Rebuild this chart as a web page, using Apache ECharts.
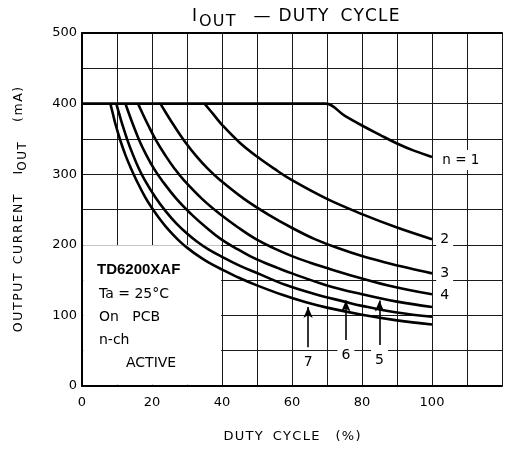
<!DOCTYPE html>
<html><head><meta charset="utf-8">
<script src="https://cdn.jsdelivr.net/npm/echarts@6/dist/echarts.min.js"></script>
<style>html,body{margin:0;padding:0;background:#fff}#c{width:505px;height:450px}</style>
</head><body><div id="c"></div>
<script>
// ---- data ----
const xTickLabels = [0, 20, 40, 60, 80, 100];
const yTickLabels = [0, 100, 200, 300, 400, 500];
const n1 = [[0,400],[60,400],[69.5,400],[75,383],[80,369],[85,356],[90,343.5],[95,333],[100,324.5]];
const n2 = [[35,400],[37.5,385],[40,370],[45,345],[50,325],[55,307.5],[60,291.5],[70,265],[80,243.5],[90,224.5],[100,208]];
const n3 = [[22.4,400],[24.1,386],[25.8,372.5],[29.2,347.5],[32.6,326],[36,307.5],[39.5,291.5],[46.3,265],[53,243.5],[59.8,224.5],[66.5,208],[73.3,195],[80,184],[86.7,175],[93.3,167],[100,159.5]];
const n4 = [[16,400],[17.3,386],[18.6,372.5],[21.2,347.5],[23.9,326],[26.5,307.5],[29.1,291.5],[34.3,265],[39.4,243.5],[44.6,224.5],[49.7,208],[54.9,195],[60,184],[65,175],[70,167],[75,159.5],[87.5,142.5],[100,130]];
const n5 = [[12.4,400],[13.4,386],[14.4,372.5],[16.4,347.5],[18.5,326],[20.6,307.5],[22.8,291.5],[27,265],[31.2,243.5],[35.5,224.5],[39.7,208],[44,195],[48,184],[52,175],[56,167],[60,159.5],[70,142.5],[80,130],[90,119.5],[100,112]];
const n6 = [[9.8,400],[10.6,386],[11.4,372.5],[13,348],[14.6,327],[16.2,308.5],[17.9,292],[21,267],[24,247],[27,230],[30,216],[33,204],[36,194],[40,183],[45,170.5],[50,160],[58.3,143],[66.7,130],[75,119.5],[80,113.5],[90,104],[100,98]];
const n7 = [[8.1,400],[8.8,386],[9.5,372],[11,347],[12.5,326],[14,308],[15.5,292],[18,268],[20,252],[22,238],[24,225.5],[26,214.5],[28,204.5],[30,196],[33,185],[36,175.5],[40,165],[45,153],[50,142.5],[57,129.5],[64,118.5],[70,111],[80,101],[90,93],[100,87]];
const curves = [n1, n2, n3, n4, n5, n6, n7];
const curveLabels = ['n = 1', '2', '3', '4', '5', '6', '7'];
// arrows: [x, tail y, tip y]
const arrows = [[64.6, 55, 112], [75.4, 65, 121], [85, 58, 121]];

const FONT = '"DejaVu Sans", "Open Sans", sans-serif';
// letter-spaced rich text: every char in style st, joined by gap style g
function sp(text, st, g) {
  return Array.from(text).map(c => '{' + st + '|' + c + '}').join(g ? '{' + g + '| }' : '');
}
function gap(name) { return '{' + name + '| }'; }

const chart = echarts.init(document.getElementById('c'), null, {renderer: 'canvas'});

const series = [{
  type: 'line', data: [], z: 1, silent: true,
  markArea: {
    silent: true,
    itemStyle: {color: '#ffffff', opacity: 1},
    data: [[{coord: [0.35, 1.6]}, {coord: [39.75, 199.2]}]]
  }
}];
curves.forEach((c, i) => {
  const s = {
    type: 'line', data: c, z: 3, smooth: 0.4, symbol: 'none', silent: true,
    lineStyle: {color: '#000', width: 2.6}
  };
  if (i === 6) {
    s.markLine = {
      silent: true, symbol: ['none', 'arrow'], symbolSize: [7, 11],
      lineStyle: {color: '#000', width: 1.6, type: 'solid'},
      label: {show: false},
      data: arrows.map(a => [{coord: [a[0], a[1]]}, {coord: [a[0], a[2]]}])
    };
  }
  series.push(s);
});

const base = {fontFamily: FONT, fontWeight: 'normal', color: '#000', verticalAlign: 'top'};
const titleRich = {
  a: Object.assign({fontSize: 17, lineHeight: 24}, base),
  s: Object.assign({fontSize: 16, lineHeight: 24, padding: [6, 0, 0, 0]}, base),
  g: Object.assign({fontSize: 17, lineHeight: 24, width: 1.2}, base),
  w0: Object.assign({fontSize: 17, lineHeight: 24, width: 2}, base),
  w1: Object.assign({fontSize: 17, lineHeight: 24, width: 18}, base),
  w2: Object.assign({fontSize: 17, lineHeight: 24, width: 8}, base),
  w3: Object.assign({fontSize: 17, lineHeight: 24, width: 12}, base)
};
const yRich = {
  a: Object.assign({fontSize: 12.5, lineHeight: 18}, base),
  s: Object.assign({fontSize: 12, lineHeight: 18, padding: [5, 0, 0, 0]}, base),
  g: Object.assign({fontSize: 12.5, lineHeight: 18, width: 1.6}, base),
  w1: Object.assign({fontSize: 12.5, lineHeight: 18, width: 9}, base),
  w2: Object.assign({fontSize: 12.5, lineHeight: 18, width: 20}, base)
};
const xRich = {
  a: Object.assign({fontSize: 13, lineHeight: 16}, base),
  g: Object.assign({fontSize: 13, lineHeight: 16, width: 1.3}, base),
  w1: Object.assign({fontSize: 13, lineHeight: 16, width: 10}, base),
  w2: Object.assign({fontSize: 13, lineHeight: 16, width: 16}, base)
};

chart.setOption({
  animation: false,
  title: {
    text: '{a|I}' + gap('w0') + sp('OUT', 's', 'g') + gap('w1') + '{a|—}' + gap('w2') + sp('DUTY', 'a', 'g') + gap('w3') + sp('CYCLE', 'a', 'g'),
    left: 187, top: 3,
    textStyle: {fontWeight: 'normal', rich: titleRich}
  },
  grid: {left: 82, right: 0, top: 33, bottom: 64},
  xAxis: [{
    type: 'value', min: 0, max: 120, interval: 10,
    axisLine: {show: true, lineStyle: {color: '#000', width: 2}},
    axisTick: {show: false},
    splitLine: {show: true, lineStyle: {color: '#1a1a1a', width: 1}},
    axisLabel: {formatter: v => xTickLabels.includes(v) ? String(v) : '', color: '#000', fontSize: 13, fontFamily: FONT, margin: 10},
    name: sp('DUTY', 'a', 'g') + gap('w1') + sp('CYCLE', 'a', 'g') + gap('w2') + sp('(%)', 'a', 'g'),
    nameLocation: 'middle', nameGap: 44,
    nameTextStyle: {rich: xRich}
  }, {
    type: 'value', min: 0, max: 120, position: 'top',
    axisLine: {show: true, lineStyle: {color: '#000', width: 2}},
    axisTick: {show: false}, axisLabel: {show: false}, splitLine: {show: false}
  }],
  yAxis: {
    type: 'value', min: 0, max: 500, interval: 50,
    axisLine: {show: true, lineStyle: {color: '#000', width: 2}},
    axisTick: {show: false},
    splitLine: {show: true, lineStyle: {color: '#1a1a1a', width: 1}},
    axisLabel: {formatter: v => yTickLabels.includes(v) ? String(v) : '', color: '#000', fontSize: 13, fontFamily: FONT, margin: 5},
    name: sp('OUTPUT', 'a', 'g') + gap('w1') + sp('CURRENT', 'a', 'g') + gap('w2') + '{a|I}' + sp('OUT', 's', 'g') + gap('w2') + sp('(mA)', 'a', 'g'),
    nameLocation: 'middle', nameGap: 52, nameRotate: 90,
    nameTextStyle: {rich: yRich}
  },
  series: series
});

// annotations
function px(x, y) { return chart.convertToPixel({gridIndex: 0}, [x, y]); }
const gfx = [];
function lab(text, x, y, align, opts) {
  const p = px(x, y);
  gfx.push({
    type: 'text', x: p[0], y: p[1], z: 10, silent: true,
    style: Object.assign({text: text, fill: '#000', font: '14px ' + FONT, align: align || 'left', verticalAlign: 'middle', backgroundColor: '#fff', padding: [3, 4]}, opts || {})
  });
}
lab(curveLabels[0], 101.8, 320, 'left', {font: '13.5px ' + FONT});
lab(curveLabels[1], 101.2, 207);
lab(curveLabels[2], 101.2, 160);
lab(curveLabels[3], 101.2, 129, 'left', {backgroundColor: null});
lab(curveLabels[6], 64.6, 34, 'center');
lab(curveLabels[5], 75.4, 44, 'center');
lab(curveLabels[4], 85, 37, 'center');
function boxText(text, x, y, font) {
  gfx.push({type: 'text', x: x, y: y, z: 10, silent: true, style: {text: text, fill: '#000', font: font, verticalAlign: 'middle'}});
}
boxText('TD6200XAF', 97, 270, 'bold 15px "Liberation Sans", Arial, sans-serif');
boxText('Ta = 25°C', 99, 294, '14px ' + FONT);
boxText('On   PCB', 99, 317, '14px ' + FONT);
boxText('n-ch', 99, 340, '14px ' + FONT);
boxText('ACTIVE', 126, 363, '14px ' + FONT);
chart.setOption({graphic: gfx});
</script></body></html>
